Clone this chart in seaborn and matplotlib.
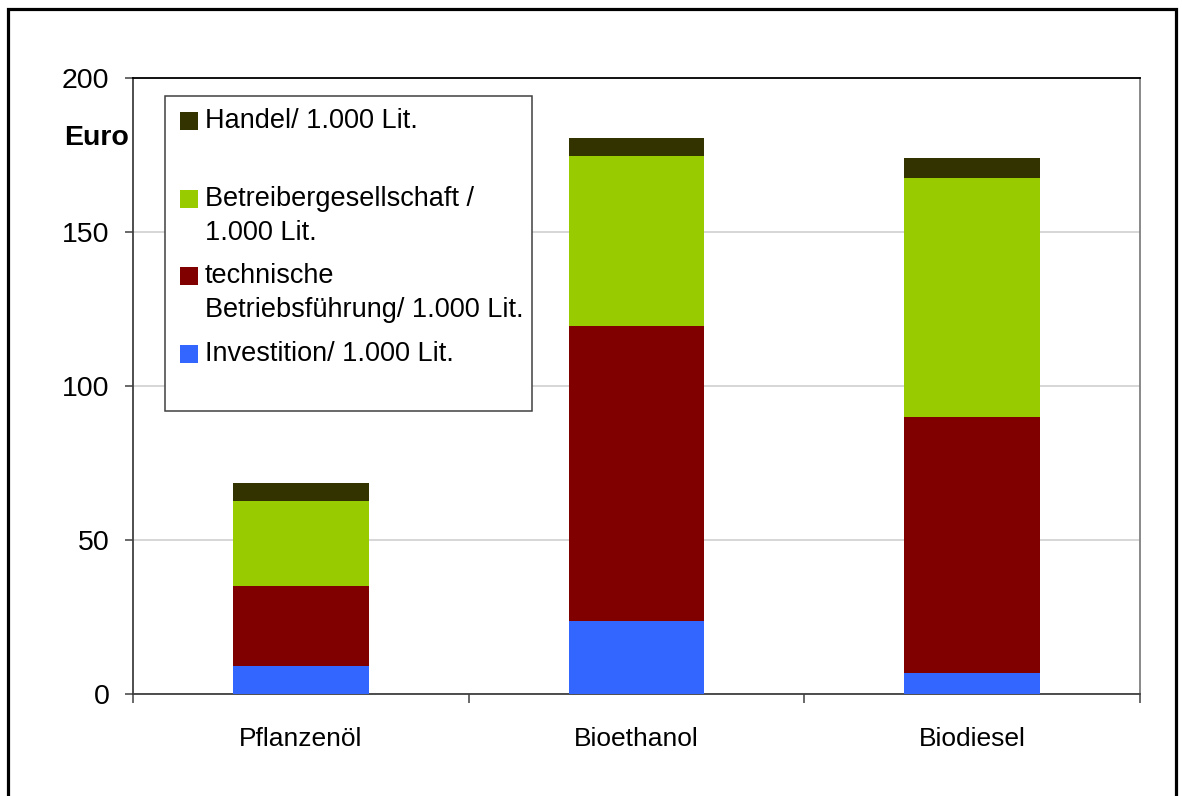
import numpy as np
import pandas as pd
import matplotlib
matplotlib.use("Agg")
import matplotlib.pyplot as plt
import seaborn as sns
from matplotlib.patches import Rectangle

# Daten (Euro je 1.000 Liter)
kategorien = ["Pflanzenöl", "Bioethanol", "Biodiesel"]
investition = [9.0, 23.6, 6.6]
technische_bf = [26.0, 96.0, 83.4]
betreiber = [27.7, 55.3, 77.5]
handel = [5.9, 5.9, 6.5]

serien = ["Investition/ 1.000 Lit.",
          "technische\nBetriebsführung/ 1.000 Lit.",
          "Betreibergesellschaft /\n1.000 Lit.",
          "Handel/ 1.000 Lit."]
farben = ["#3366FF", "#800000", "#99CC00", "#333300"]

sns.set_theme(style="white")
plt.rcParams["font.family"] = ["Liberation Sans", "DejaVu Sans"]
plt.rcParams["text.color"] = "black"
plt.rcParams["xtick.color"] = "black"
plt.rcParams["ytick.color"] = "black"

werte = np.array([investition, technische_bf, betreiber, handel])
kumuliert = np.cumsum(werte, axis=0)

fig = plt.figure(figsize=(11.83, 7.96), dpi=100)
ax = fig.add_axes([133 / 1183, 1 - 693.5 / 796, 1007 / 1183, 615 / 796])

# gestapelte Balken: von oben nach unten zeichnen
for i in range(len(serien) - 1, -1, -1):
    df = pd.DataFrame({"Kategorie": kategorien, "Wert": kumuliert[i]})
    sns.barplot(data=df, x="Kategorie", y="Wert", color=farben[i],
                width=0.405, saturation=1, ax=ax, zorder=3, linewidth=0)

ax.set_xlim(-0.5, 2.5)
ax.set_ylim(0, 200)
ax.set_yticks([0, 50, 100, 150, 200])
ax.yaxis.grid(True, color="#d0d0d0", linewidth=1.2, zorder=0)
ax.set_axisbelow(True)
ax.set_xlabel("")
ax.set_ylabel("")

ax.tick_params(axis="y", which="major", direction="out", length=6, width=1.1,
               color="#404040", labelcolor="black", labelsize=20.5, pad=11,
               left=True)
ax.tick_params(axis="x", which="major", length=0, labelsize=19,
               labelcolor="black", pad=24)
ax.set_xticks([-0.5, 0.5, 1.5, 2.5], minor=True)
ax.tick_params(axis="x", which="minor", direction="out", length=6.5, width=1.1,
               color="#404040", bottom=True)

for s in ["left", "bottom"]:
    ax.spines[s].set_color("#404040")
    ax.spines[s].set_linewidth(1.3)
ax.spines["top"].set_color("#000000")
ax.spines["top"].set_linewidth(1.3)
ax.spines["right"].set_color("#808080")
ax.spines["right"].set_linewidth(1.3)

fig.text(64 / 1183, 1 - 138 / 796, "Euro", fontsize=20.5, fontweight="bold",
         va="center", ha="left", color="black")

# Legende wie im Original (Marker an der ersten Zeile)
lx0, lx1 = (165 - 133) / 1007, (532 - 133) / 1007
ly0, ly1 = (693.5 - 411) / 615, (693.5 - 96) / 615
ax.add_patch(Rectangle((lx0, ly0), lx1 - lx0, ly1 - ly0, transform=ax.transAxes,
                       facecolor="white", edgecolor="#404040", linewidth=1.1,
                       zorder=5))
eintraege = [(3, 121, ["Handel/ 1.000 Lit."]),
             (2, 199, ["Betreibergesellschaft /", "1.000 Lit."]),
             (1, 276, ["technische", "Betriebsführung/ 1.000 Lit."]),
             (0, 354, ["Investition/ 1.000 Lit."])]
msize = 17.5
for idx, yc, zeilen in eintraege:
    ax.add_patch(Rectangle(((180 - 133) / 1007, (693.5 - yc - msize / 2) / 615),
                           msize / 1007, msize / 615, transform=ax.transAxes,
                           facecolor=farben[idx], edgecolor="none", zorder=6))
    for k, z in enumerate(zeilen):
        ax.text((205 - 133) / 1007, (693.5 - yc - k * 34.5) / 615, z,
                transform=ax.transAxes, fontsize=19.5, va="center", ha="left",
                color="black", zorder=6)

# äußerer Rahmen
fig.add_artist(Rectangle((8 / 1183, -0.1), (1176 - 8) / 1183, 1.1 - 8.5 / 796,
                         transform=fig.transFigure, facecolor="none",
                         edgecolor="black", linewidth=2.3, clip_on=False))

fig.savefig("out.png", dpi=100)
